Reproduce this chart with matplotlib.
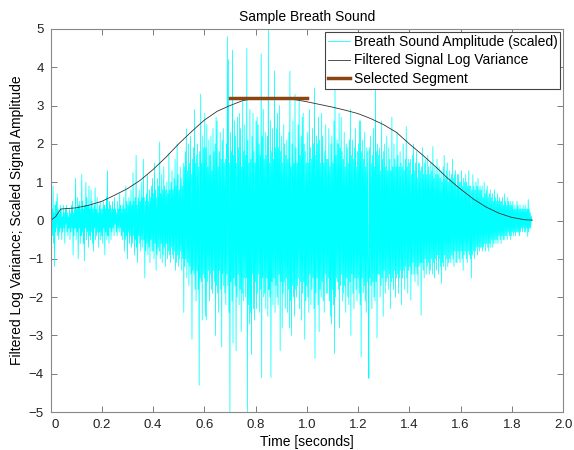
import numpy as np
import matplotlib
matplotlib.use("Agg")
from matplotlib import pyplot as plt
from matplotlib.transforms import ScaledTranslation

plt.rcParams['font.family'] = ['Liberation Sans', 'DejaVu Sans']

# breath sound samples, one every 2 ms (20 per row = 40 ms)
amplitude = [
    0.0, 0.2, -0.1, 0.3, -0.4, 0.9, -0.6, 0.2, -1.2, 0.4, -0.3, 0.5, -0.2, 0.7, -0.4, 0.3, -0.5, 0.2, -0.3, 0.4,
    -0.2, 0.3, -0.5, 0.1, -0.3, 0.4, -0.2, 0.2, -0.6, 0.3, -0.1, 0.4, -0.3, 0.2, -0.4, 0.1, -0.2, 0.3, -0.5, 0.2,
    -0.3, 0.4, -0.2, 0.5, -0.9, 0.2, -0.4, 0.3, -0.2, 1.1, -0.5, 0.3, -0.3, 0.6, -1.0, 0.4, -0.2, 0.5, -0.6, 0.3,
    -0.4, 1.2, -0.3, 0.5, -0.6, 0.3, -1.05, 0.4, -0.2, 1.0, -0.5, 0.6, -0.3, 0.4, -0.7, 0.9, -0.4, 0.3, -0.5, 0.8,
    -0.3, 0.5, -0.6, 0.3, -0.8, 0.4, -0.2, 0.85, -0.5, 0.3, -0.4, 0.6, -0.3, 0.2, -0.7, 0.4, -0.3, 0.5, -0.5, 0.3,
    -0.4, 0.3, -0.6, 0.5, -0.2, 0.4, -0.9, 0.3, -0.3, 0.6, -0.5, 1.3, -0.4, 0.3, -0.6, 0.5, -0.2, 0.4, -0.5, 0.3,
    -0.3, 0.5, -0.2, 0.3, -0.4, 0.6, -0.1, 0.3, -0.3, 0.2, -0.4, 0.5, -0.2, 0.3, -0.3, 0.7, -0.2, 0.4, -0.4, 0.3,
    -0.5, 0.4, -0.3, 0.6, -0.8, 0.3, -0.5, 0.9, -0.4, 0.5, -1.0, 0.4, -0.3, 0.6, -0.6, 0.5, -0.4, 0.8, -0.7, 0.4,
    -0.6, 1.25, -0.4, 0.5, -0.9, 0.6, -0.5, 1.7, -0.7, 0.4, -1.1, 0.6, -0.4, 0.8, -0.6, 0.5, -0.8, 1.0, -0.5, 0.6,
    -0.7, 1.6, -0.5, 0.6, -1.5, 0.5, -0.8, 0.7, -0.6, 1.2, -0.9, 0.5, -0.7, 0.8, -1.1, 0.6, -0.5, 0.9, -0.8, 1.1,
    -0.8, 0.7, -1.0, 1.5, -0.6, 0.8, -1.3, 0.6, -0.9, 1.1, -0.7, 0.9, -0.8, 2.05, -1.0, 0.7, -0.6, 1.2, -1.1, 0.8,
    -0.9, 1.4, -0.7, 0.9, -1.2, 0.8, -0.6, 1.0, -1.0, 0.7, -0.8, 1.75, -0.9, 0.8, -1.1, 1.0, -0.7, 1.3, -0.9, 0.8,
    -1.0, 1.1, -0.8, 1.6, -1.3, 0.9, -1.1, 2.0, -0.9, 1.2, -1.2, 0.8, -1.0, 1.4, -0.8, 1.1, -1.3, 0.9, -1.0, 1.5,
    -2.4, 1.4, -1.2, 1.8, -1.0, 2.4, -1.5, 1.3, -1.1, 2.0, -1.7, 1.5, -1.2, 2.2, -1.4, 1.2, -3.1, 1.6, -1.3, 1.9,
    -1.4, 2.9, -1.8, 1.5, -2.1, 1.7, -1.3, 2.0, -1.8, 1.4, -4.3, 1.8, -1.5, 3.3, -1.6, 1.5, -2.6, 2.2, -1.4, 1.9,
    -1.5, 2.8, -2.5, 1.9, -2.6, 2.5, -1.6, 1.4, -1.3, 2.1, -2.1, 1.7, -1.4, 2.2, -1.8, 1.3, -1.9, 2.4, -1.3, 1.8,
    -1.6, 2.0, -3.0, 2.7, -1.7, 2.6, -1.9, 1.4, -2.4, 1.8, -1.3, 2.3, -1.8, 1.6, -3.3, 2.1, -1.4, 2.4, -1.7, 1.5,
    -1.9, 1.6, -2.2, 2.0, -1.4, 4.8, -1.7, 4.2, -2.4, 1.5, -5.0, 2.3, -1.6, 1.8, -2.1, 4.45, -3.2, 1.7, -1.5, 2.6,
    -1.7, 2.2, -3.4, 1.5, -2.0, 2.7, -1.4, 1.9, -2.2, 2.8, -1.8, 2.4, -2.9, 1.4, -1.9, 3.2, -2.1, 1.8, -1.5, 2.5,
    -2.0, 1.7, -1.5, 4.5, -5.0, 2.1, -2.2, 1.5, -2.7, 2.9, -2.4, 1.6, -3.5, 2.2, -1.4, 2.8, -2.3, 1.8, -2.6, 1.5,
    -1.6, 2.6, -2.3, 2.7, -1.9, 2.5, -1.4, 2.0, -2.4, 1.7, -1.8, 4.35, -4.1, 2.2, -1.5, 2.9, -2.0, 1.6, -1.9, 2.3,
    -2.3, 1.7, -1.5, 2.2, -2.5, 5.0, -1.8, 1.5, -2.0, 2.6, -4.1, 1.8, -1.6, 2.4, -2.2, 1.6, -1.5, 3.9, -2.4, 1.9,
    -1.7, 2.4, -2.0, 2.8, -2.2, 1.9, -1.4, 3.0, -3.4, 1.8, -1.6, 2.2, -2.8, 1.5, -1.9, 2.5, -1.6, 2.0, -2.3, 1.7,
    -1.5, 2.1, -2.4, 1.6, -1.8, 2.3, -2.8, 3.9, -2.1, 1.4, -3.0, 2.0, -1.7, 2.6, -2.0, 1.5, -2.5, 3.3, -1.8, 1.9,
    -2.0, 1.5, -1.7, 2.5, -1.5, 3.2, -2.3, 1.7, -1.6, 2.2, -2.6, 2.7, -1.9, 2.8, -1.6, 2.0, -3.1, 1.8, -2.1, 1.5,
    -1.7, 2.3, -2.0, 1.5, -2.4, 2.9, -1.4, 1.9, -2.2, 1.6, -1.8, 2.4, -1.5, 2.0, -2.3, 3.46, -3.6, 1.7, -1.9, 2.2,
    -1.5, 2.0, -2.2, 2.7, -2.9, 2.1, -1.8, 1.5, -2.0, 2.8, -1.6, 2.2, -2.1, 1.5, -2.4, 1.8, -1.4, 2.5, -1.9, 1.6,
    -1.9, 1.6, -1.5, 2.4, -2.1, 1.4, -2.5, 2.0, -2.7, 2.2, -1.8, 1.5, -2.2, 2.6, -3.47, 3.49, -2.0, 1.7, -1.5, 2.1,
    -1.6, 2.0, -1.8, 2.8, -2.8, 1.9, -1.7, 2.7, -1.4, 1.8, -2.1, 1.6, -1.9, 2.3, -1.7, 1.4, -2.4, 2.0, -1.5, 1.9,
    -2.0, 1.5, -2.2, 2.1, -1.6, 2.9, -3.0, 1.7, -1.4, 2.1, -1.9, 1.6, -2.3, 1.9, -1.5, 2.4, -1.8, 1.4, -2.1, 1.8,
    -1.5, 2.0, -1.9, 2.6, -2.2, 2.6, -3.56, 1.8, -1.5, 2.1, -1.9, 1.6, -1.7, 2.3, -2.1, 1.4, -2.4, 1.9, -1.6, 1.8,
    -1.8, -4.12, 1.9, -1.5, 2.2, -1.7, 1.5, -2.3, 1.7, -1.6, 2.4, -2.0, 1.4, -2.1, 3.5, -1.6, 1.8, -3.07, 2.0, -1.4,
    1.7, -1.4, 1.9, -2.0, 1.3, -1.7, 2.6, -1.5, 1.6, -2.5, 1.8, -1.3, 2.0, -1.9, 1.4, -1.6, 2.2, -1.5, 1.3, -1.8,
    1.9, -1.4, 1.6, -2.3, 1.3, -1.6, 2.7, -1.5, 1.4, -1.8, 2.0, -1.3, 1.6, -2.0, 1.4, -1.5, 2.3, -1.4, 1.7, -1.9,
    1.4, -1.5, 1.8, -1.3, 1.5, -2.2, 1.4, -1.5, 2.0, -1.3, 1.3, -1.8, 1.6, -1.2, 2.45, -1.5, 1.4, -1.9, 1.6, -1.3,
    1.5, -1.2, 1.6, -2.08, 1.2, -1.4, 1.7, -1.1, 2.0, -1.4, 1.3, -1.6, 1.5, -1.2, 1.8, -1.4, 1.1, -1.7, 1.5, -1.2,
    1.5, -1.1, 1.3, -2.47, 1.4, -1.1, 1.9, -1.3, 1.2, -1.5, 1.5, -1.0, 1.6, -1.4, 1.2, -1.2, 1.7, -1.1, 1.4, -1.4,
    1.2, -1.3, 1.5, -1.0, 1.3, -1.4, 1.93, -1.1, 1.1, -1.5, 1.4, -1.0, 1.2, -1.3, 1.6, -0.9, 1.2, -1.4, 1.4, -1.0,
    1.1, -1.2, 1.3, -1.64, 1.0, -1.1, 1.4, -1.2, 1.7, -0.9, 1.1, -1.3, 1.3, -1.0, 1.5, -1.2, 1.0, -1.1, 1.3, -1.0,
    1.1, -1.1, 1.2, -0.9, 1.6, -1.0, 1.1, -1.2, 1.2, -0.8, 1.3, -1.1, 0.9, -1.1, 1.2, -0.8, 1.2, -1.0, 1.0, -1.1,
    1.0, -0.8, 1.3, -1.0, 0.9, -1.3, 1.1, -0.9, 1.0, -0.8, 1.2, -1.0, 1.0, -1.1, 0.9, -0.8, 1.3, -0.9, 0.9, -1.0,
    0.9, -1.5, 0.8, -0.9, 1.2, -0.8, 0.9, -1.0, 0.8, -0.8, 1.0, -0.7, 0.9, -0.9, 1.1, -0.7, 0.8, -0.8, 0.9, -0.7,
    0.8, -0.7, 0.9, -0.8, 0.6, -0.7, 1.0, -0.6, 0.7, -0.8, 0.8, -0.6, 0.9, -0.7, 0.6, -0.8, 0.7, -0.6, 0.8, -0.7,
    0.6, -0.5, 0.7, -0.7, 0.5, -0.6, 0.8, -0.5, 0.6, -0.6, 0.5, -0.5, 0.7, -0.6, 0.5, -0.4, 0.6, -0.5, 0.5, -0.6,
    0.5, -0.4, 0.6, -0.5, 0.4, -0.5, 0.7, -0.4, 0.5, -0.4, 0.4, -0.5, 0.6, -0.3, 0.5, -0.4, 0.4, -0.5, 0.5, -0.4,
    0.4, -0.3, 0.5, -0.4, 0.3, -0.3, 0.4, -0.4, 0.3, -0.3, 0.5, -0.3, 0.4, -0.3, 0.3, -0.4, 0.4, -0.3, 0.3, -0.2,
    0.3, -0.3, 0.4, -0.2, 0.3, -0.3, 0.4, -0.3, 0.3, -0.2, 0.3, -0.42, 0.55, -0.3, 0.3, -0.2, 0.2, -0.2, 0.1, 0.0,
]
sample_step = 0.002

# filtered log variance curve
curve_t = [0.0, 0.02, 0.04, 0.1, 0.15, 0.2, 0.25, 0.3, 0.35, 0.4, 0.45, 0.5, 0.55, 0.6,
           0.65, 0.7, 0.75, 0.8, 0.85, 0.9, 0.95, 1.0, 1.05, 1.1, 1.15, 1.2, 1.25, 1.3,
           1.35, 1.4, 1.45, 1.5, 1.55, 1.6, 1.65, 1.7, 1.75, 1.8, 1.85, 1.88]
curve_v = [0.0, 0.1, 0.3, 0.33, 0.4, 0.5, 0.66, 0.83, 1.05, 1.33, 1.65, 2.0, 2.32, 2.62,
           2.85, 3.0, 3.13, 3.19, 3.21, 3.2, 3.16, 3.1, 3.03, 2.96, 2.88, 2.79, 2.66, 2.5,
           2.3, 2.0, 1.72, 1.42, 1.1, 0.82, 0.56, 0.35, 0.19, 0.08, 0.02, 0.01]

# selected segment
seg_t = [0.7, 1.0]
seg_v = [3.21, 3.21]

t = np.arange(len(amplitude)) * sample_step

fig = plt.figure(figsize=(5.74, 4.5), dpi=100)
ax = fig.add_axes([0.088, 0.0844, 0.893, 0.8512])

ax.plot(t, amplitude, color='cyan', lw=0.55, label='Breath Sound Amplitude (scaled)')
ax.plot(curve_t, curve_v, color='#333333', lw=0.6, label='Filtered Signal Log Variance')
ax.plot(seg_t, seg_v, color='#8B4513', lw=2.5, label='Selected Segment')

ax.set_xlim(0, 2)
ax.set_ylim(-5, 5)
ax.set_xticks(np.arange(0, 2.01, 0.2))
ax.set_xticklabels(['0', '0.2', '0.4', '0.6', '0.8', '1.0', '1.2', '1.4', '1.6', '1.8', '2.0'])
ax.set_yticks(range(-5, 6))
ax.tick_params(direction='in', top=True, right=True, length=4, width=0.6,
               color='#666666', labelsize=9.5, labelcolor='#222222', pad=5)
for s in ax.spines.values():
    s.set_color('#888888')
    s.set_linewidth(0.8)

# the "0" label sits a little right of its tick, as in the original
zero = ax.get_xticklabels()[0]
zero.set_transform(zero.get_transform() + ScaledTranslation(0.05, 0, fig.dpi_scale_trans))

ax.set_title('Sample Breath Sound', fontsize=10, pad=6)
ax.set_xlabel('Time [seconds]', fontsize=10, labelpad=3)
ax.set_ylabel('Filtered Log Variance; Scaled Signal Amplitude', fontsize=10, labelpad=3)

leg = ax.legend(loc='upper right', fontsize=10, fancybox=False, framealpha=1,
                edgecolor='#444444', handlelength=1.6, handletextpad=0.25,
                borderaxespad=0.2, borderpad=0.2, labelspacing=0.35)
leg.get_frame().set_linewidth(0.8)

fig.savefig('out.png', dpi=100)
